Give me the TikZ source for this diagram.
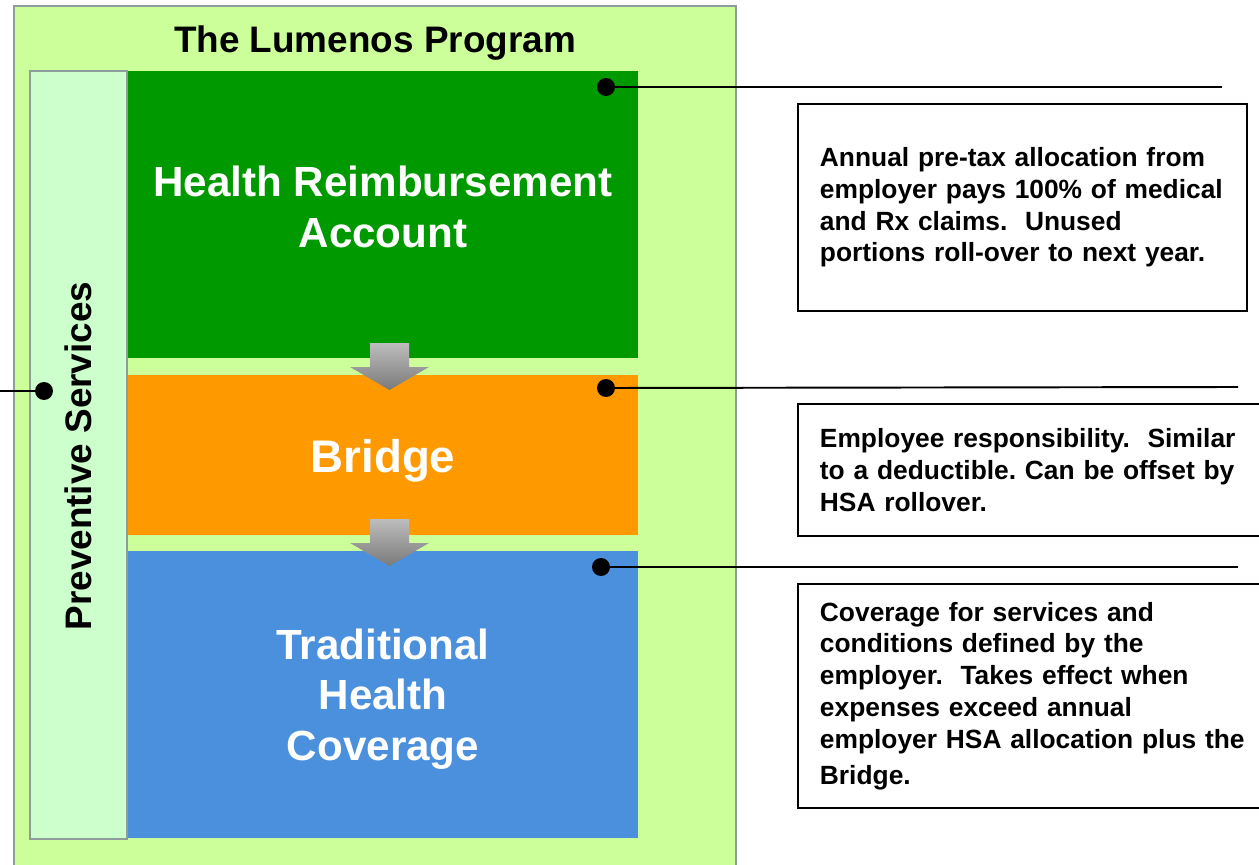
\documentclass[tikz,border=0pt]{standalone}
\usepackage{fontspec}
\setmainfont{Liberation Sans}
\usetikzlibrary{positioning}
\frenchspacing

\definecolor{programbg}{HTML}{CCFF99}
\definecolor{preventbg}{HTML}{CCFFCC}
\definecolor{frameline}{HTML}{8F9C9C}
\definecolor{hragreen}{HTML}{009900}
\definecolor{bridgeorange}{HTML}{FF9900}
\definecolor{coverblue}{HTML}{4B90DD}
\definecolor{arrowtop}{HTML}{BDBDBD}
\definecolor{arrowbot}{HTML}{7A7A7A}

\begin{document}
\begin{tikzpicture}[x=0.02cm, y=-0.02cm]
  \tikzset{
    tier/.style={inner sep=0pt, minimum width=10.2cm},
    tier label/.style={text=white, align=center, font=\bfseries\fontsize{24}{28.9}\selectfont},
    note/.style={draw, line width=1.1pt, fill=white, align=left, anchor=north west,
      inner xsep=0.44cm, inner ysep=0pt, font=\bfseries\fontsize{15}{18.1}\selectfont},
    dot/.style={circle, fill=black, inner sep=0pt, minimum size=0.36cm},
    leader/.style={line width=1.1pt},
    flow arrow/.style={top color=arrowtop, bottom color=arrowbot}
  }
  \useasboundingbox (0,0) rectangle (1259,865);
  \clip (0,0) rectangle (1259,865);

  % Program frame and title
  \draw[fill=programbg, draw=frameline, line width=1pt] (14,6) rectangle (736,890);
  \node[font=\bfseries\fontsize{21}{25}\selectfont] (title) at (375,43) {The Lumenos Program};

  % Preventive services column
  \node[draw=frameline, line width=1.2pt, fill=preventbg, minimum width=1.94cm,
    minimum height=15.36cm, inner sep=0pt] (prev) at (78.5,455) {};
  \node[rotate=90, font=\bfseries\fontsize{21}{25}\selectfont] (prevlabel) at (78,456) {Preventive Services};

  % The three tiers
  \node[tier, fill=hragreen, minimum height=5.74cm] (hra) at (383,214.5) {};
  \node[tier, fill=bridgeorange, minimum height=3.2cm] (bridge) at (383,455) {};
  \node[tier, fill=coverblue, minimum height=5.74cm] (thc) at (383,694.5) {};
  \node[tier label] (hralabel) at (383,207) {Health Reimbursement\\Account};
  \node[tier label, font=\bfseries\fontsize{26}{30}\selectfont] (bridgelabel) at (383,461) {Bridge};
  \node[tier label] (thclabel) at (383,699) {Traditional\\Health\\Coverage};

  % Flow arrows between tiers
  \foreach \y in {343,519}
    \shade[flow arrow] (370,\y) -- (409,\y) -- (409,\y+24) -- (429,\y+24)
      -- (389.5,\y+47) -- (350,\y+24) -- (370,\y+24) -- cycle;

  % Descriptions
  \node[note, text width=8.1cm, minimum height=4.14cm] (hranote) at (797,103)
    {Annual pre-tax allocation from\\employer pays 100\% of medical\\and Rx claims.\ \ Unused\\portions roll-over to next year.};
  \node[note, text width=8.68cm, minimum height=2.64cm] (bridgenote) at (797,403)
    {Employee responsibility.\ \ Similar\\to a deductible. Can be offset by\\HSA rollover.};
  \node[note, text width=8.68cm, minimum height=4.48cm] (thcnote) at (797,583)
    {Coverage for services and\\conditions defined by the\\employer.\ \ Takes effect when\\expenses exceed annual\\employer HSA allocation plus the\\[2.5pt]Bridge.};

  % Leader lines
  \node[dot] (hradot) at (606,87) {};
  \node[dot] (bridgedot) at (606,388) {};
  \node[dot] (thcdot) at (601,567) {};
  \node[dot] (prevdot) at (44,391) {};
  \coordinate (hraend) at (1222,87);
  \coordinate (bridgeend) at (1238,387);
  \coordinate (thcend) at (1238,567);
  \coordinate (prevend) at (0,391);
  \draw[leader] (hradot.center) -- (hraend);
  \draw[leader] (bridgedot.center) -- (bridgeend);
  \draw[leader] (thcdot.center) -- (thcend);
  \draw[leader] (prevdot.center) -- (prevend);
\end{tikzpicture}
\end{document}
